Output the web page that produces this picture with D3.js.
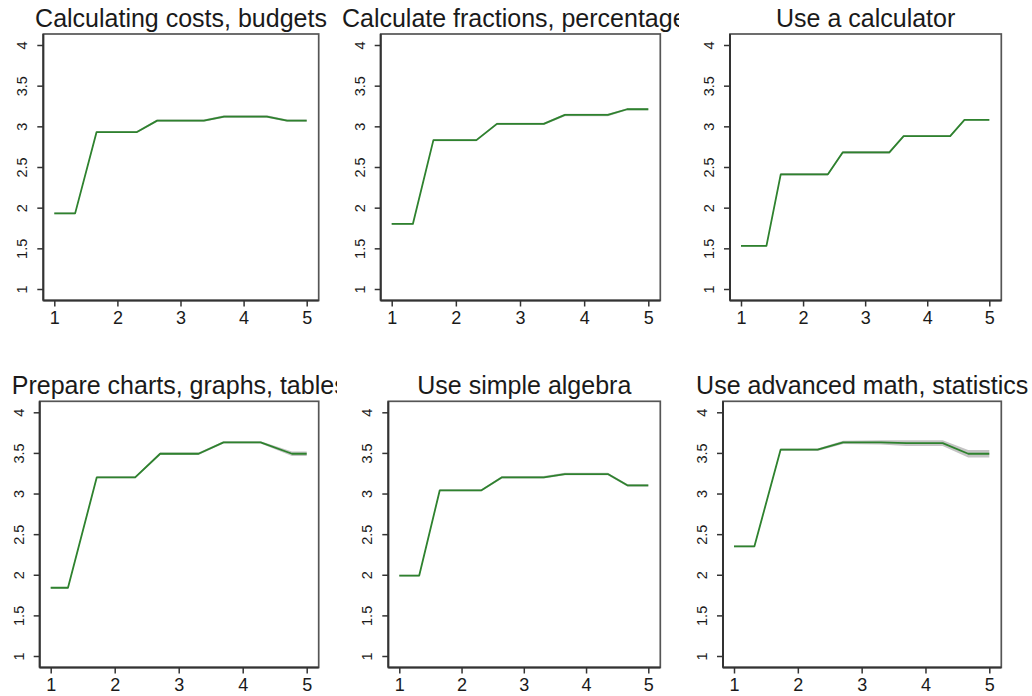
<!DOCTYPE html>
<html>
<head>
<meta charset="utf-8">
<script src="https://cdn.jsdelivr.net/npm/d3@7"></script>
<style>
  html, body { margin: 0; padding: 0; background: #fff; }
  svg { display: block; font-family: "Liberation Sans", Arial, sans-serif; }
</style>
</head>
<body>
<svg id="chart" width="1032" height="696"></svg>
<script>
// ---------------- data ----------------
const titles = [
  "Calculating costs, budgets",
  "Calculate fractions, percentages",
  "Use a calculator",
  "Prepare charts, graphs, tables",
  "Use simple algebra",
  "Use advanced math, statistics"
];

const xTicks = [1, 2, 3, 4, 5];
const yTicks = [1, 1.5, 2, 2.5, 3, 3.5, 4];
const yTickLabels = ["1", "1.5", "2", "2.5", "3", "3.5", "4"];

const xCosts      = [1, 1.33, 1.67, 2.31, 2.63, 3.37, 3.69, 4.37, 4.69, 5];
const yCosts      = [1.93, 1.93, 2.93, 2.93, 3.07, 3.07, 3.12, 3.12, 3.07, 3.07];
const seCosts     = [0.01, 0.01, 0.012, 0.012, 0.015, 0.015, 0.015, 0.015, 0.015, 0.015];

const xFractions  = [1, 1.33, 1.65, 2.32, 2.64, 3.37, 3.70, 4.37, 4.67, 5];
const yFractions  = [1.80, 1.80, 2.83, 2.83, 3.03, 3.03, 3.14, 3.14, 3.21, 3.21];
const seFractions = [0.01, 0.01, 0.012, 0.012, 0.015, 0.015, 0.015, 0.015, 0.012, 0.012];

const xCalc       = [1, 1.41, 1.64, 2.40, 2.64, 3.39, 3.62, 4.37, 4.60, 5];
const yCalc       = [1.53, 1.53, 2.41, 2.41, 2.68, 2.68, 2.88, 2.88, 3.08, 3.08];
const seCalc      = [0.01, 0.01, 0.015, 0.015, 0.018, 0.018, 0.012, 0.012, 0.01, 0.01];

const xCharts     = [1, 1.27, 1.72, 2.32, 2.71, 3.31, 3.70, 4.28, 4.77, 5];
const yCharts     = [1.84, 1.84, 3.20, 3.20, 3.49, 3.49, 3.63, 3.63, 3.49, 3.49];
const seCharts    = [0.01, 0.01, 0.012, 0.012, 0.015, 0.015, 0.015, 0.015, 0.028, 0.028];

const xAlgebra    = [1, 1.32, 1.65, 2.32, 2.65, 3.32, 3.66, 4.35, 4.67, 5];
const yAlgebra    = [1.99, 1.99, 3.04, 3.04, 3.20, 3.20, 3.24, 3.24, 3.10, 3.10];
const seAlgebra   = [0.01, 0.01, 0.012, 0.012, 0.015, 0.015, 0.015, 0.015, 0.015, 0.015];

const xAdvanced   = [1, 1.32, 1.73, 2.31, 2.71, 3.30, 3.70, 4.27, 4.67, 5];
const yAdvanced   = [2.35, 2.35, 3.54, 3.54, 3.63, 3.63, 3.62, 3.62, 3.49, 3.49];
const seAdvanced  = [0.01, 0.01, 0.015, 0.015, 0.02, 0.025, 0.035, 0.035, 0.045, 0.045];

const seriesX  = [xCosts, xFractions, xCalc, xCharts, xAlgebra, xAdvanced];
const seriesY  = [yCosts, yFractions, yCalc, yCharts, yAlgebra, yAdvanced];
const seriesSE = [seCosts, seFractions, seCalc, seCharts, seAlgebra, seAdvanced];

// ---------------- layout ----------------
// pixel range of the axis ticks (x=1..5, y=4..1) for each panel
const layout = [
  { x1: 54.3,  x5: 306.7, y4: 45,    y1: 289, clip: [0, 337] },
  { x1: 391.7, x5: 648.3, y4: 45,    y1: 289, clip: [341, 679] },
  { x1: 741,   x5: 989.3, y4: 45,    y1: 289, clip: [686, 1032] },
  { x1: 50.7,  x5: 306.7, y4: 412.3, y1: 656, clip: [0, 337] },
  { x1: 399.3, x5: 648.3, y4: 412.3, y1: 656, clip: [341, 679] },
  { x1: 734,   x5: 989.3, y4: 412.3, y1: 656, clip: [686, 1032] }
];
const padL = 11, padR = 12, padT = 11, padB = 11.5;

const svg = d3.select("#chart");
const defs = svg.append("defs");

titles.forEach((title, i) => {
  const L = layout[i];
  const x = d3.scaleLinear().domain([1, 5]).range([L.x1, L.x5]);
  const y = d3.scaleLinear().domain([1, 4]).range([L.y1, L.y4]);
  const boxL = L.x1 - padL, boxR = L.x5 + padR, boxT = L.y4 - padT, boxB = L.y1 + padB;

  defs.append("clipPath").attr("id", "clip" + i)
    .append("rect")
    .attr("x", L.clip[0]).attr("y", 0)
    .attr("width", L.clip[1] - L.clip[0]).attr("height", 696);

  const g = svg.append("g").attr("clip-path", "url(#clip" + i + ")");

  // title
  g.append("text")
    .attr("x", (boxL + boxR) / 2)
    .attr("y", boxT - 7.5)
    .attr("text-anchor", "middle")
    .attr("font-size", 25)
    .attr("fill", "#1a1a1a")
    .text(title);

  // confidence band
  const pts = seriesX[i].map((xv, k) => ({ x: xv, y: seriesY[i][k], se: seriesSE[i][k] }));
  g.append("path")
    .datum(pts)
    .attr("fill", "#c4c4c4")
    .attr("d", d3.area().x(d => x(d.x)).y0(d => y(d.y - d.se)).y1(d => y(d.y + d.se)));

  // line
  g.append("path")
    .datum(pts)
    .attr("fill", "none")
    .attr("stroke", "#2e822e")
    .attr("stroke-width", 1.8)
    .attr("stroke-linejoin", "round")
    .attr("d", d3.line().x(d => x(d.x)).y(d => y(d.y)));

  // box
  g.append("rect")
    .attr("x", boxL).attr("y", boxT)
    .attr("width", boxR - boxL).attr("height", boxB - boxT)
    .attr("fill", "none")
    .attr("stroke", "#555")
    .attr("stroke-width", 1.7);

  // x axis
  const xAxis = d3.axisBottom(x).tickValues(xTicks).tickSize(6).tickPadding(5)
    .tickFormat(d3.format("d"));
  const gx = g.append("g").attr("transform", `translate(0,${boxB})`).call(xAxis);
  gx.select(".domain").attr("d", `M${boxL},0H${boxR}`).attr("stroke", "#333").attr("stroke-width", 2);
  gx.selectAll(".tick line").attr("stroke", "#333").attr("stroke-width", 1.5);
  gx.selectAll(".tick text")
    .attr("font-family", "Liberation Sans, Arial, sans-serif")
    .attr("font-size", 18).attr("fill", "#1a1a1a")
    .attr("dy", "0.71em");

  // y axis
  const yAxis = d3.axisLeft(y).tickValues(yTicks).tickSize(6).tickPadding(0)
    .tickFormat((d, k) => yTickLabels[k]);
  const gy = g.append("g").attr("transform", `translate(${boxL},0)`).call(yAxis);
  gy.select(".domain").attr("d", `M0,${boxT}V${boxB}`).attr("stroke", "#333").attr("stroke-width", 2);
  gy.selectAll(".tick line").attr("stroke", "#333").attr("stroke-width", 1.5);
  gy.selectAll(".tick text")
    .attr("font-family", "Liberation Sans, Arial, sans-serif")
    .attr("font-size", 14.5).attr("fill", "#1a1a1a")
    .attr("x", null).attr("dy", null)
    .attr("text-anchor", "middle")
    .attr("transform", "translate(-16,0) rotate(-90)");
});
</script>
</body>
</html>
